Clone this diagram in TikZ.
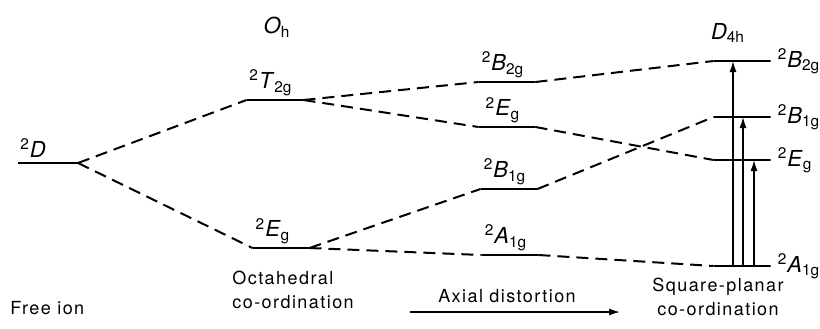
\documentclass[tikz,border=0pt]{standalone}
\usepackage{fontspec}
\setmainfont{TeX Gyre Heros}
\newfontfamily\notefont[LetterSpace=8]{TeX Gyre Heros}
\usepackage{tikz}
\usetikzlibrary{positioning, arrows.meta}

\newcommand{\term}[2]{\textsuperscript{2}\textit{#1}\textsubscript{#2}}

\tikzset{
  lvl/.style={draw, line width=1.2pt, minimum width=28.5pt, minimum height=0pt,
              inner sep=0pt, outer sep=0pt},
  corr/.style={line width=1pt, dash pattern=on 6pt off 3.5pt},
  trans/.style={line width=0.7pt, -{Latex[length=5.5pt, width=3.5pt]}},
  lbl/.style={font=\fontsize{11}{13}\selectfont, inner sep=1pt},
  note/.style={font=\notefont\small, align=left, inner sep=0pt}
}

\begin{document}
\begin{tikzpicture}[x=0.5pt, y=-0.5pt]
  \useasboundingbox (0,0) rectangle (820,328);

  % levels
  \node[lvl, minimum width=30pt] (D) at (48,163) {};
  \node[lvl] (T2g) at (275,100) {};
  \node[lvl] (Eg) at (281,248) {};
  \node[lvl] (B2gM) at (507,82) {};
  \node[lvl] (EgM) at (507,127) {};
  \node[lvl] (B1gM) at (509,189) {};
  \node[lvl] (A1gM) at (510,255) {};
  \node[lvl] (B2gR) at (742,61) {};
  \node[lvl] (B1gR) at (742,117) {};
  \node[lvl] (EgR) at (742,160) {};
  \node[lvl] (A1gR) at (742,266) {};

  % labels
  \node[lbl, anchor=south west] (lD) at (D.north west) {\term{D}{}};
  \node[lbl, above=1pt of T2g, xshift=-2pt] (lT2g) {\term{T}{2g}};
  \node[lbl, above=1pt of Eg, xshift=-4pt] (lEg) {\term{E}{g}};
  \node[lbl, above=1pt of B2gM, xshift=-2pt] (lB2gM) {\term{B}{2g}};
  \node[lbl, above=1pt of EgM, xshift=-2pt] (lEgM) {\term{E}{g}};
  \node[lbl, above=1pt of B1gM, xshift=-2pt] (lB1gM) {\term{B}{1g}};
  \node[lbl, above=1pt of A1gM, xshift=-2pt] (lA1gM) {\term{A}{1g}};
  \node[lbl, right=2.5pt of B2gR] (lB2gR) {\term{B}{2g}};
  \node[lbl, right=2.5pt of B1gR] (lB1gR) {\term{B}{1g}};
  \node[lbl, right=2.5pt of EgR] (lEgR) {\term{E}{g}};
  \node[lbl, right=2.5pt of A1gR] (lA1gR) {\term{A}{1g}};

  \node[lbl] (Oh) at (277,27) {\textit{O}\textsubscript{h}};
  \node[lbl] (D4h) at (728,33) {\textit{D}\textsubscript{4h}};

  % correlation lines
  \draw[corr] (D.east) -- (T2g.west);
  \draw[corr] (D.east) -- (Eg.west);
  \draw[corr] (T2g.east) -- (B2gM.west);
  \draw[corr] (T2g.east) -- (EgM.west);
  \draw[corr] (Eg.east) -- (B1gM.west);
  \draw[corr] (Eg.east) -- (A1gM.west);
  \draw[corr] (B2gM.east) -- (B2gR.west);
  \draw[corr] (EgM.east) -- (EgR.west);
  \draw[corr] (B1gM.east) -- (B1gR.west);
  \draw[corr] (A1gM.east) -- (A1gR.west);

  % transitions
  \coordinate (t1) at (733,266);
  \coordinate (t2) at (743,266);
  \coordinate (t3) at (754,266);
  \draw[trans] (t1) -- (t1 |- B2gR);
  \draw[trans] (t2) -- (t2 |- B1gR);
  \draw[trans] (t3) -- (t3 |- EgR);

  % captions
  \node[note, anchor=west] (oct) at (232,290) {Octahedral\\[1pt]co-ordination};
  \node[note, anchor=west] (free) at (10,308) {Free ion};
  \node[note, align=center] (sq) at (718,297) {Square-planar\\[1pt]co-ordination};
  \node[note] (axial) at (507,296) {Axial distortion};
  \coordinate (a0) at (410,312);
  \coordinate (a1) at (620,312);
  \draw[trans] (a0) -- (a1);
\end{tikzpicture}
\end{document}
